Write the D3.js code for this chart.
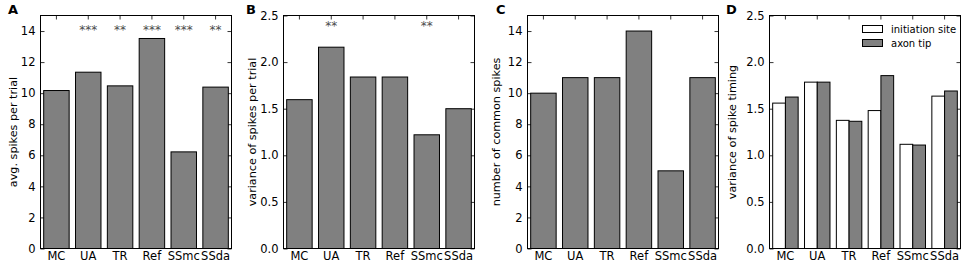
<!DOCTYPE html>
<html><head><meta charset="utf-8">
<script src="https://cdn.jsdelivr.net/npm/d3@7"></script>
<style>
body{margin:0;background:#fff;}
svg{display:block;}
text{font-family:"DejaVu Sans",sans-serif;}
.stars{opacity:0.99;}
</style></head>
<body><svg id="c" width="964" height="263"></svg>
<script>
const categories = ["MC","UA","TR","Ref","SSmc","SSda"];
const avgSpikes = [10.17, 11.35, 10.47, 13.52, 6.22, 10.39];
const avgSpikesStars = ["", "***", "**", "***", "***", "**"];
const varSpikes = [1.597, 2.16, 1.84, 1.84, 1.22, 1.50];
const varSpikesStars = ["", "**", "", "", "**", ""];
const commonSpikes = [10, 11, 11, 14, 5, 11];
const timingInitiation = [1.56, 1.785, 1.375, 1.48, 1.118, 1.635];
const timingAxon = [1.625, 1.785, 1.365, 1.855, 1.11, 1.69];
const ticks15 = [0,2,4,6,8,10,12,14];
const ticks25 = [0,0.5,1.0,1.5,2.0,2.5];
const legendLabels = ["initiation site","axon tip"];

const svg = d3.select("#c");
const GRAY = "#808080";
const plotTop = 15.5, plotBottom = 248.5;
const FS = 11.5;

const panels = [
  {letter:"A", lx:8, left:40.5, ylabel:"avg. spikes per trial", labx:16.5, max:15, ticks:ticks15, fmt:d3.format("d"), series:[avgSpikes], stars:avgSpikesStars, starY:14.25},
  {letter:"B", lx:246, left:283.5, ylabel:"variance of spikes per trial", labx:255.5, max:2.5, ticks:ticks25, fmt:d3.format(".1f"), series:[varSpikes], stars:varSpikesStars, starY:2.42},
  {letter:"C", lx:496, left:527.5, ylabel:"number of common spikes", labx:500, max:15, ticks:ticks15, fmt:d3.format("d"), series:[commonSpikes]},
  {letter:"D", lx:726, left:769.5, ylabel:"variance of spike timing", labx:736, max:2.5, ticks:ticks25, fmt:d3.format(".1f"), series:[timingInitiation, timingAxon], legend:true}
];
const W = 191;

panels.forEach(p => {
  const g = svg.append("g");
  const x = d3.scaleBand().domain(categories).range([p.left, p.left+W]).paddingInner(0.2).paddingOuter(0.1);
  const y = d3.scaleLinear().domain([0,p.max]).range([plotBottom, plotTop]);

  const axB = g.append("g").attr("transform",`translate(0,${plotBottom})`)
    .call(d3.axisBottom(x).tickSizeInner(-4).tickSizeOuter(0).tickPadding(3.3));
  const axT = g.append("g").attr("transform",`translate(0,${plotTop})`)
    .call(d3.axisTop(x).tickSizeInner(-4).tickSizeOuter(0).tickFormat(""));
  const axL = g.append("g").attr("transform",`translate(${p.left},0)`)
    .call(d3.axisLeft(y).tickValues(p.ticks).tickFormat(p.fmt).tickSizeInner(-4).tickSizeOuter(0).tickPadding(5));
  const axR = g.append("g").attr("transform",`translate(${p.left+W},0)`)
    .call(d3.axisRight(y).tickValues(p.ticks).tickSizeInner(-4).tickSizeOuter(0).tickFormat(""));
  [axB,axT,axL,axR].forEach(a=>{
    a.select(".domain").remove();
    a.selectAll("line").attr("stroke","#000").attr("stroke-width",0.8);
    a.selectAll("text").attr("font-size",FS).attr("fill","#000").attr("font-family","DejaVu Sans, sans-serif");
  });

  if (p.series.length === 1) {
    g.selectAll("rect.bar").data(p.series[0]).join("rect")
      .attr("x",(d,i)=>x(categories[i])).attr("width",x.bandwidth())
      .attr("y",d=>y(d)).attr("height",d=>plotBottom-y(d))
      .attr("fill",GRAY).attr("stroke","#000").attr("stroke-width",1);
  } else {
    const sub = d3.scaleBand().domain([0,1]).range([0,x.bandwidth()]);
    const fills = ["#fff",GRAY];
    p.series.forEach((s,k)=>{
      g.selectAll("rect.s"+k).data(s).join("rect")
        .attr("x",(d,i)=>x(categories[i])+sub(k)).attr("width",sub.bandwidth())
        .attr("y",d=>y(d)).attr("height",d=>plotBottom-y(d))
        .attr("fill",fills[k]).attr("stroke","#000").attr("stroke-width",1);
    });
    const lg = g.append("g");
    legendLabels.forEach((t,k)=>{
      lg.append("rect").attr("x",862.5).attr("y",25.5+k*14).attr("width",20).attr("height",7)
        .attr("fill",fills[k]).attr("stroke","#000").attr("stroke-width",1);
      lg.append("text").attr("x",891).attr("y",33+k*14).attr("font-size",10).text(t);
    });
  }

  if (p.stars) {
    g.append("g").attr("class","stars").selectAll("text").data(p.stars).join("text")
      .attr("x",(d,i)=>x(categories[i])+x.bandwidth()/2)
      .attr("y",y(p.starY)+7)
      .attr("text-anchor","middle").attr("font-size",12).attr("fill","#4a4a4a")
      .text(d=>d);
  }

  g.append("rect").attr("x",p.left).attr("y",plotTop).attr("width",W).attr("height",plotBottom-plotTop)
    .attr("fill","none").attr("stroke","#000").attr("stroke-width",1);

  g.append("text").attr("transform",`translate(${p.labx},${(plotTop+plotBottom)/2}) rotate(-90)`)
    .attr("text-anchor","middle").attr("font-size",11.2).text(p.ylabel);

  g.append("text").attr("x",p.lx).attr("y",14).attr("font-family","Liberation Sans, Arial, sans-serif")
    .attr("font-weight","bold").attr("font-size",13).text(p.letter);
});
</script>
</body></html>
